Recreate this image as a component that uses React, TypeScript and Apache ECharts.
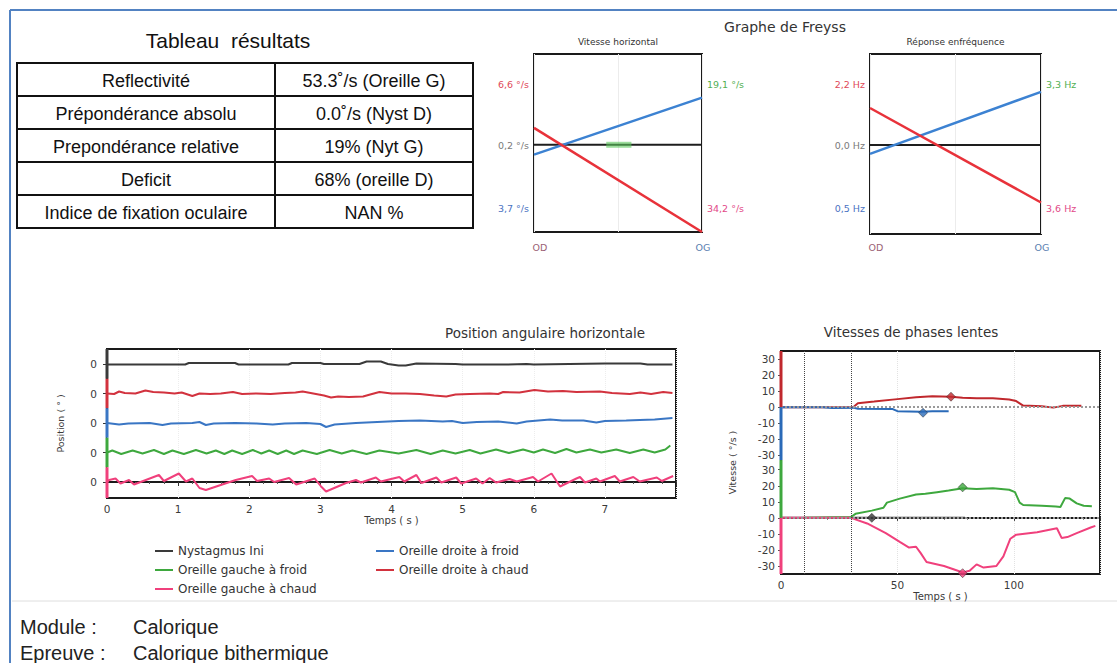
import React, { useEffect, useRef } from "react";
import * as echarts from "echarts";

// ---------------- Tableau résultats ----------------
const tableTitle = "Tableau  résultats";
const tableLabels = [
  "Reflectivité",
  "Prépondérance absolu",
  "Prepondérance relative",
  "Deficit",
  "Indice de fixation oculaire",
];
const tableValues = [
  "53.3˚/s (Oreille G)",
  "0.0˚/s (Nyst D)",
  "19% (Nyt G)",
  "68% (oreille D)",
  "NAN %",
];

// ---------------- Graphe de Freyss ----------------
const freyssTitle = "Graphe de Freyss";
const freyssSubTitles = ["Vitesse horizontal", "Réponse enfréquence"];
const freyssEnds = ["OD", "OG"];
const freyssX = [0, 1];
const freyssBlueVit = [-1.1, 5.3];
const freyssRedVit = [1.9, -9.8];
const freyssBlueFreq = [-1.0, 5.9];
const freyssRedFreq = [4.1, -6.4];
const freyssGreenMark = [0.43, 0.58];
const freyssLeftLabelsVit = ["6,6 °/s", "0,2 °/s", "3,7 °/s"];
const freyssRightLabelsVit = ["19,1 °/s", "34,2 °/s"];
const freyssLeftLabelsFreq = ["2,2 Hz", "0,0 Hz", "0,5 Hz"];
const freyssRightLabelsFreq = ["3,3 Hz", "3,6 Hz"];

// ---------------- Position angulaire horizontale ----------------
const posTitle = "Position angulaire horizontale";
const posNames = [
  "Nystagmus Ini",
  "Oreille droite à chaud",
  "Oreille droite à froid",
  "Oreille gauche à froid",
  "Oreille gauche à chaud",
];
const posOffsets = [118, 88.5, 59, 29.5, 0];
const posBandBounds = [133, 103.25, 73.75, 44.25, 14.75, -16];
const posNystagmus = [
  [0, -0.5], [1.1, -0.5], [1.15, 1], [1.8, 1], [1.85, -0.5], [2.55, -0.5], [2.6, 1], [3.0, 1],
  [3.05, 0], [3.55, 0], [3.65, 2.5], [3.85, 2.5], [3.95, 0], [4.1, -1.5], [4.2, -1.5], [4.35, 0.5],
  [4.9, 0], [5.0, -0.5], [5.6, -0.5], [5.9, 0], [6.0, -0.5], [6.5, 0], [7.0, 0.5], [7.5, 0.5],
  [7.6, -0.5], [7.95, -0.5],
];
const posDroiteChaud = [
  [0, 0], [0.1, -0.5], [0.17, 2], [0.25, 0.5], [0.4, 0], [0.54, 3], [0.65, 1.5], [0.8, 1], [0.95, 0],
  [1.05, 1], [1.2, -2.5], [1.3, 0], [1.45, -0.5], [1.6, 0], [1.77, 1.5], [1.9, -0.5], [2.1, 0],
  [2.3, -0.5], [2.5, 0.5], [2.65, 1], [2.75, 2], [2.9, 0], [3.05, -2], [3.15, -4], [3.25, -3],
  [3.4, -3.5], [3.6, -3], [3.7, -1], [3.83, 1.5], [4.0, 0], [4.2, 0], [4.4, -0.5], [4.6, -2],
  [4.77, -3], [4.9, -1], [5.1, -0.5], [5.38, 0], [5.5, -0.5], [5.57, 1.5], [5.8, 1], [6.01, 3.5],
  [6.2, 2], [6.41, 2.5], [6.6, 1.5], [6.93, 2], [7.1, 0.5], [7.35, -0.5], [7.5, 1], [7.65, -0.5],
  [7.82, 1.5], [7.95, 0.5],
];
const posDroiteFroid = [
  [0, 0], [0.17, -1.5], [0.3, -0.5], [0.6, 0], [0.78, -2], [0.9, -0.5], [1.2, 0], [1.3, 1],
  [1.39, -2], [1.5, -0.5], [1.8, 0], [2.1, -0.5], [2.33, -1.5], [2.5, -0.5], [2.8, 0], [3.0, -1],
  [3.08, -4], [3.2, -1.5], [3.5, 0], [3.8, 1], [4.1, 2], [4.4, 2.5], [4.72, 1.5], [4.85, 2],
  [5.0, 0], [5.2, 1], [5.5, 1.5], [5.76, -0.5], [5.9, 1.5], [6.23, 3.5], [6.4, 2.5], [6.7, 2.5],
  [6.88, 0.5], [7.0, 2], [7.3, 2.5], [7.49, 3], [7.7, 3.5], [7.95, 5],
];
const posGaucheFroid = [
  [0, 0], [0.075, 2], [0.2, -1.5], [0.36, 2], [0.5, -1], [0.66, 2.5], [0.8, -1.5], [0.92, 2],
  [1.08, -1.5], [1.25, 2.5], [1.4, -1], [1.53, 2], [1.65, -1.5], [1.76, 2], [1.9, -1.5], [2.05, 2.5],
  [2.17, -1], [2.28, 2], [2.4, -1.5], [2.52, 2], [2.63, -1.5], [2.75, 2], [2.95, -1.5], [3.13, 2.5],
  [3.3, -1], [3.45, 2], [3.65, -1.5], [3.83, 2], [4.1, -1], [4.35, 2.5], [4.55, -1.5], [4.72, 2],
  [4.9, -1], [5.1, 2.5], [5.25, -1], [5.47, 3], [5.65, -0.5], [5.85, 3], [6.0, 0], [6.13, 3],
  [6.3, -0.5], [6.46, 3.5], [6.6, 0], [6.79, 3], [6.95, 0], [7.16, 3], [7.35, -0.5], [7.54, 3],
  [7.7, 0], [7.85, 3], [7.92, 7],
];
const posGaucheChaud = [
  [0, 0], [0.03, 2], [0.12, 3.5], [0.19, -1.5], [0.31, 2], [0.38, -2.5], [0.73, 7], [0.8, 1],
  [1.01, 8.5], [1.11, 0.5], [1.2, 3.5], [1.3, -6], [1.39, -8], [1.62, -2.5], [1.81, 2], [2.04, 6],
  [2.11, 1], [2.28, 3.5], [2.35, 0], [2.56, 4], [2.66, -2.5], [2.92, 3.5], [3.01, -4.5], [3.08, -9.5],
  [3.36, -1], [3.5, 2], [3.57, -0.5], [3.78, 4.5], [3.85, 0.5], [4.11, 5], [4.18, 0.5], [4.35, 7],
  [4.42, -1], [4.63, 4.5], [4.7, -0.5], [4.91, 4.5], [4.98, -1.5], [5.19, 3.5], [5.28, -1.5],
  [5.38, 4], [5.47, -0.5], [5.66, 3], [5.76, 0.5], [5.99, 5], [6.06, 0.5], [6.25, 8.5], [6.37, -4.5],
  [6.6, 3.5], [6.65, 5], [6.72, -0.5], [6.88, 3.5], [6.93, 0.5], [7.14, 6], [7.21, 0.5], [7.4, 5],
  [7.49, 0.5], [7.73, 4.5], [7.8, 1], [7.96, 6],
];

// ---------------- Vitesses de phases lentes ----------------
const velTitle = "Vitesses de phases lentes";
const velTopOffset = 69;
const velLabelValues = [-30, -20, -10, 0, 10, 20, 30];
const velMarkTimes = [10, 30];
const velBandBounds = [104, 69, 36, 0, -35];
const velDroiteChaud = [
  [0, 0], [31, 0], [33, 2.5], [40, 3.5], [50, 5], [58, 6.2], [65, 6.8], [73, 6.5], [78, 5.8],
  [84, 5.5], [91, 5.5], [98, 4.8], [101, 3.8], [104, 1], [112, 0.6], [117, -0.3], [121, 0.8], [129, 0.8],
];
const velDroiteFroid = [
  [0, 0], [18, 0], [22, -0.5], [31, -0.3], [33, -1], [48, -1.2], [50, -2.5], [60, -2.8], [65, -2.5], [72, -2.5],
];
const velGaucheFroid = [
  [10, 0], [30, 0.5], [32, 2.5], [39, 4.5], [44, 6.3], [45.5, 9.5], [51, 12], [58, 14.5], [62, 15],
  [67, 16], [72, 17], [78, 18.5], [84, 18], [91, 18.5], [98, 17.5], [100.5, 16], [102.5, 9.5], [104, 8],
  [112, 7.5], [118, 7], [120, 6.8], [122, 12.3], [124, 12], [127, 9], [130, 7.5], [133.5, 7.2],
];
const velNystagmus = [[0, 0], [79, 0]];
const velGaucheChaud = [
  [0, 0], [30, 0], [31, -0.5], [37, -3.5], [45, -9.5], [51, -15], [55, -18.5], [58, -18], [60, -22],
  [62.5, -27.5], [70, -30], [75, -32.5], [78, -34], [81, -33], [84, -29], [87, -31], [92.5, -30],
  [95.5, -24], [98.5, -13], [101, -10.5], [110, -9], [118.5, -6.5], [120.5, -12.5], [123, -12],
  [127, -9.5], [133, -6], [135, -5],
];
const velMarkDroiteChaud = [73, 6.5];
const velMarkDroiteFroid = [61, -3.5];
const velMarkGaucheFroid = [78, 19];
const velMarkNystagmus = [39, 0];
const velMarkGaucheChaud = [78, -34.5];

// ---------------- Footer ----------------
const footerRows = [
  ["Module :", "Calorique"],
  ["Epreuve :", "Calorique bithermique"],
];

const C_NYST = "#3a3a3a";
const C_ODC = "#d2323e";
const C_ODF = "#3a76c4";
const C_OGF = "#3ea83e";
const C_OGC = "#f0407c";
const C_ODC_V = "#c0282d";
const C_ODF_V = "#2a6ab8";

const CHART_FONT = "DejaVu Sans";
const DOC_FONT = "Liberation Sans";

function buildOption() {
  const graphic: any[] = [];
  const txt = (x: number, y: number, text: string, o: any = {}) =>
    graphic.push({
      type: "text",
      x,
      y,
      silent: true,
      style: {
        text,
        fill: o.fill || "#333",
        fontSize: o.fontSize || 12,
        fontFamily: o.fontFamily || CHART_FONT,
        fontWeight: o.fontWeight || "normal",
        align: o.align || "center",
        verticalAlign: "middle",
      },
    });
  const ln = (x1: number, y1: number, x2: number, y2: number, stroke: string, lineWidth: number) =>
    graphic.push({ type: "line", silent: true, shape: { x1, y1, x2, y2 }, style: { stroke, lineWidth } });

  // frame
  ln(10, 10, 1117, 10, "#5282c2", 2);
  ln(10, 10, 10, 663, "#5282c2", 2);
  ln(12, 601, 1117, 601, "#dedede", 1);

  // table
  const tx0 = 17, tx1 = 473, tcol = 275, ty0 = 63, rowH = 33;
  txt(228, 40, tableTitle, { fontSize: 21, fontFamily: DOC_FONT, fill: "#111" });
  graphic.push({
    type: "rect",
    silent: true,
    shape: { x: tx0, y: ty0, width: tx1 - tx0, height: rowH * tableLabels.length },
    style: { fill: "#fff", stroke: "#111", lineWidth: 2 },
  });
  for (let i = 1; i < tableLabels.length; i++) ln(tx0, ty0 + rowH * i, tx1, ty0 + rowH * i, "#111", 2);
  ln(tcol, ty0, tcol, ty0 + rowH * tableLabels.length, "#111", 2);
  tableLabels.forEach((l, i) => {
    const cy = ty0 + rowH * i + rowH / 2 + 1;
    txt((tx0 + tcol) / 2, cy, l, { fontSize: 18, fontFamily: DOC_FONT, fill: "#111" });
    txt((tcol + tx1) / 2, cy, tableValues[i], { fontSize: 18, fontFamily: DOC_FONT, fill: "#111" });
  });

  // Freyss texts
  txt(785, 27, freyssTitle, { fontSize: 14, fill: "#333" });
  const fBoxes = [
    { l: 534, r: 702, sub: freyssSubTitles[0], left: freyssLeftLabelsVit, right: freyssRightLabelsVit },
    { l: 870, r: 1041, sub: freyssSubTitles[1], left: freyssLeftLabelsFreq, right: freyssRightLabelsFreq },
  ];
  const leftCols = ["#e04858", "#7a7a7a", "#4a72c2"];
  const rightCols = ["#52b052", "#e24a88"];
  const labelYs = [84, 145, 208];
  fBoxes.forEach((b) => {
    txt((b.l + b.r) / 2, 42, b.sub, { fontSize: 9, fill: "#333" });
    b.left.forEach((t, i) => txt(b.l - 5, labelYs[i], t, { fontSize: 9.5, fill: leftCols[i], align: "right" }));
    b.right.forEach((t, i) => txt(b.r + 5, labelYs[i * 2], t, { fontSize: 9.5, fill: rightCols[i], align: "left" }));
    txt(b.l + 6, 247, freyssEnds[0], { fontSize: 9.5, fill: "#9a6074" });
    txt(b.r + 1, 247, freyssEnds[1], { fontSize: 9.5, fill: "#5a80b0" });
  });

  // chart titles
  txt(545, 333, posTitle, { fontSize: 13.5, fill: "#333" });
  txt(911, 332, velTitle, { fontSize: 13.5, fill: "#333" });

  // footer
  footerRows.forEach((r, i) => {
    txt(20, 627 + i * 26, r[0], { fontSize: 20, fontFamily: DOC_FONT, fill: "#222", align: "left" });
    txt(133, 627 + i * 26, r[1], { fontSize: 20, fontFamily: DOC_FONT, fill: "#222", align: "left" });
  });

  const line = (name: any, xi: number, data: any[], color: string, width = 2, z = 3, extra: any = {}) => ({
    type: "line",
    name,
    xAxisIndex: xi,
    yAxisIndex: xi,
    data,
    symbol: "none",
    lineStyle: { width, color },
    itemStyle: { color },
    z,
    ...extra,
  });

  const series: any[] = [];
  // Freyss
  const fData = [
    { blue: freyssBlueVit, red: freyssRedVit, green: true },
    { blue: freyssBlueFreq, red: freyssRedFreq, green: false },
  ];
  fData.forEach((f, gi) => {
    series.push(line(undefined, gi, freyssX.map((x) => [x, 0]), "#1e1e1e", 2));
    if (f.green)
      series.push(line(undefined, gi, freyssGreenMark.map((x) => [x, 0]), "rgba(92,200,92,0.6)", 6, 4));
    series.push(line(undefined, gi, freyssX.map((x, i) => [x, f.blue[i]]), "#3c82d2", 2.5, 5));
    series.push(line(undefined, gi, freyssX.map((x, i) => [x, f.red[i]]), "#e8323a", 2.5, 6));
  });

  // Position
  const posData = [posNystagmus, posDroiteChaud, posDroiteFroid, posGaucheFroid, posGaucheChaud];
  const posColors = [C_NYST, C_ODC, C_ODF, C_OGF, C_OGC];
  posData.forEach((d, i) => {
    series.push(line(posNames[i], 2, d.map(([t, v]) => [t, v + posOffsets[i]]), posColors[i], 2));
    series.push(
      line(undefined, 2, [[0, posBandBounds[i]], [0, posBandBounds[i + 1]]], posColors[i], 3, 8, { clip: false })
    );
  });

  // Velocity
  const velDefs = [
    { name: posNames[1], d: velDroiteChaud, top: true, c: C_ODC_V, m: velMarkDroiteChaud },
    { name: posNames[2], d: velDroiteFroid, top: true, c: C_ODF_V, m: velMarkDroiteFroid },
    { name: posNames[3], d: velGaucheFroid, top: false, c: C_OGF, m: velMarkGaucheFroid },
    { name: posNames[0], d: velNystagmus, top: false, c: C_NYST, m: velMarkNystagmus },
    { name: posNames[4], d: velGaucheChaud, top: false, c: C_OGC, m: velMarkGaucheChaud },
  ];
  const bandCols = [C_ODC_V, C_ODF_V, C_OGF, C_OGC];
  series.push(
    line(undefined, 3, [], "#999", 2, 1, {
      markLine: {
        silent: true,
        symbol: ["none", "none"],
        label: { show: false },
        data: [
          { yAxis: 0, lineStyle: { color: "#9a9a9a", width: 2, type: "dotted" } },
          { yAxis: velTopOffset, lineStyle: { color: "#9a9a9a", width: 2, type: "dotted" } },
          ...velMarkTimes.map((t) => ({ xAxis: t, lineStyle: { color: "#444", width: 1, type: "dotted" } })),
        ],
      },
    })
  );
  velDefs.forEach((v) => {
    const off = v.top ? velTopOffset : 0;
    series.push(line(v.name, 3, v.d.map(([t, y]) => [t, y + off]), v.c, 2, v.name === posNames[0] ? 3 : 4));
  });
  velDefs.forEach((v) => {
    const off = v.top ? velTopOffset : 0;
    series.push({
      type: "scatter",
      xAxisIndex: 3,
      yAxisIndex: 3,
      symbol: "diamond",
      symbolSize: 9,
      data: [[v.m[0], v.m[1] + off]],
      itemStyle: { color: v.c, borderColor: "#222", borderWidth: 0.6 },
      z: 9,
      silent: true,
    });
  });
  bandCols.forEach((c, i) => {
    series.push(line(undefined, 3, [[0, velBandBounds[i]], [0, velBandBounds[i + 1]]], c, 3, 8, { clip: false }));
  });

  const velCustom = [...velLabelValues, ...velLabelValues.map((v) => v + velTopOffset)];
  const axisTxt = { fontFamily: CHART_FONT, fontSize: 10.5, color: "#3a3a3a" };

  const freyssX0 = (gi: number) => ({
    gridIndex: gi,
    type: "value",
    min: 0,
    max: 1,
    interval: 0.5,
    axisLine: { show: false },
    axisTick: { show: false },
    axisLabel: { show: false },
    splitLine: { show: true, lineStyle: { color: "#ececec", width: 1 } },
  });

  return {
    animation: false,
    backgroundColor: "#fff",
    textStyle: { fontFamily: CHART_FONT },
    graphic,
    grid: [
      { left: 534, top: 54, width: 168, height: 178, show: true, borderColor: "#1a1a1a", borderWidth: 2, backgroundColor: "transparent" },
      { left: 870, top: 54, width: 171, height: 180, show: true, borderColor: "#1a1a1a", borderWidth: 2, backgroundColor: "transparent" },
      { left: 107, top: 349, width: 569, height: 149, show: true, borderColor: "#1a1a1a", borderWidth: 2, backgroundColor: "transparent" },
      { left: 781, top: 351, width: 319, height: 223, show: true, borderColor: "#1a1a1a", borderWidth: 2, backgroundColor: "transparent" },
    ],
    legend: [
      {
        left: 155,
        top: 544,
        padding: 0,
        orient: "vertical",
        itemGap: 5,
        itemWidth: 18,
        itemHeight: 2,
        icon: "rect",
        selectedMode: false,
        data: [posNames[0], posNames[3], posNames[4]],
        textStyle: { fontFamily: CHART_FONT, fontSize: 12, color: "#333", lineHeight: 14 },
      },
      {
        left: 376,
        top: 544,
        padding: 0,
        orient: "vertical",
        itemGap: 5,
        itemWidth: 18,
        itemHeight: 2,
        icon: "rect",
        selectedMode: false,
        data: [posNames[2], posNames[1]],
        textStyle: { fontFamily: CHART_FONT, fontSize: 12, color: "#333", lineHeight: 14 },
      },
    ],
    xAxis: [
      freyssX0(0),
      freyssX0(1),
      {
        gridIndex: 2,
        type: "value",
        min: 0,
        max: 8,
        interval: 1,
        name: "Temps ( s )",
        nameLocation: "middle",
        nameGap: 17,
        nameTextStyle: { ...axisTxt, fontSize: 10 },
        axisLine: { show: true, lineStyle: { color: "#1a1a1a", width: 2 } },
        axisTick: { show: true, length: 4, lineStyle: { color: "#333" } },
        minorTick: { show: true, splitNumber: 5, length: 2, lineStyle: { color: "#555" } },
        axisLabel: { ...axisTxt, margin: 5, showMaxLabel: false },
        splitLine: { show: true, lineStyle: { color: "#ededed", type: "dotted" } },
      },
      {
        gridIndex: 3,
        type: "value",
        min: 0,
        max: 137,
        interval: 50,
        name: "Temps ( s )",
        nameLocation: "middle",
        nameGap: 17,
        nameTextStyle: { ...axisTxt, fontSize: 10 },
        axisLine: { show: true, lineStyle: { color: "#1a1a1a", width: 2 } },
        axisTick: { show: true, length: 3, lineStyle: { color: "#333" } },
        minorTick: { show: true, splitNumber: 5, length: 2, lineStyle: { color: "#777" } },
        axisLabel: { ...axisTxt, margin: 5, showMaxLabel: false },
        splitLine: { show: true, lineStyle: { color: "#e2e2e2", type: "dotted" } },
      },
    ],
    yAxis: [
      { gridIndex: 0, type: "value", min: -9.8, max: 10.2, show: false },
      { gridIndex: 1, type: "value", min: -9.9, max: 10.1, show: false },
      {
        gridIndex: 2,
        type: "value",
        min: -16,
        max: 133,
        name: "Position ( ° )",
        nameLocation: "middle",
        nameGap: 42,
        nameTextStyle: { ...axisTxt, fontSize: 9.5 },
        axisLine: { show: false },
        axisTick: { show: true, length: 4, customValues: posOffsets, lineStyle: { color: "#333" } },
        axisLabel: { ...axisTxt, margin: 10, customValues: posOffsets, formatter: () => "0" },
        splitLine: { show: false },
      },
      {
        gridIndex: 3,
        type: "value",
        min: -35,
        max: 104,
        name: "Vitesse ( °/s )",
        nameLocation: "middle",
        nameGap: 44,
        nameTextStyle: { ...axisTxt, fontSize: 9.5 },
        axisLine: { show: false },
        axisTick: { show: true, length: 3, customValues: velCustom, lineStyle: { color: "#555" } },
        axisLabel: {
          ...axisTxt,
          margin: 6,
          customValues: velCustom,
          formatter: (v: number) => String(Math.round(v > 34 ? v - velTopOffset : v)),
        },
        splitLine: { show: false },
      },
    ],
    series,
  };
}

export default function App() {
  const ref = useRef<HTMLDivElement>(null);
  useEffect(() => {
    if (!ref.current) return;
    const chart = echarts.init(ref.current, undefined, { renderer: "svg" });
    chart.setOption(buildOption() as any);
    return () => chart.dispose();
  }, []);
  return (
    <div
      ref={ref}
      style={{ position: "fixed", left: 0, top: 0, width: 1117, height: 663, background: "#fff" }}
    />
  );
}
